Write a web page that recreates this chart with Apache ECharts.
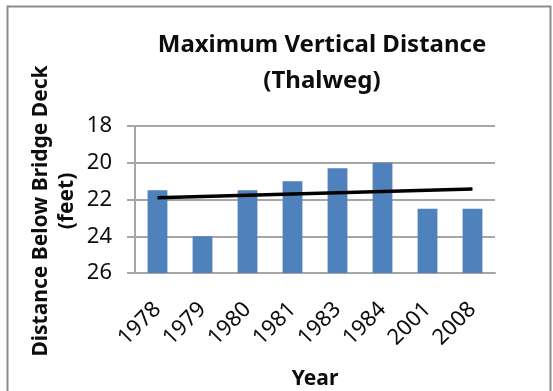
<!DOCTYPE html>
<html>
<head>
<meta charset="utf-8">
<script src="https://cdn.jsdelivr.net/npm/echarts@6/dist/echarts.min.js"></script>
<style>html,body{margin:0;padding:0;background:#fff;}#c{width:553px;height:391px;}</style>
</head>
<body>
<div id="c"></div>
<script>
const years = ['1978','1979','1980','1981','1983','1984','2001','2008'];
const distance = [21.5, 24.0, 21.5, 21.0, 20.3, 20.0, 22.5, 22.5];
const trend = [21.9, null, null, null, null, null, null, 21.43];
const yTicks = [18, 20, 22, 24, 26];

const axisMin = yTicks[0], axisMax = yTicks[yTicks.length - 1];
const barHeights = distance.map(v => axisMax - v);
const font = '"Noto Sans", sans-serif';

const chart = echarts.init(document.getElementById('c'), null, {renderer: 'canvas'});
chart.setOption({
  animation: false,
  backgroundColor: '#fff',
  grid: {left: 135, right: 58, top: 126, bottom: 118, containLabel: false},
  xAxis: {
    type: 'category',
    data: years,
    axisLine: {show: true, lineStyle: {color: '#a6a6a6', width: 2}},
    axisTick: {show: false},
    axisLabel: {rotate: 45, margin: 33, fontSize: 22, color: '#0d0d0d', fontFamily: font},
    splitLine: {show: false}
  },
  yAxis: {
    type: 'value',
    inverse: true,
    min: axisMin, max: axisMax, interval: 2,
    axisLine: {show: true, lineStyle: {color: '#a6a6a6', width: 2}},
    axisTick: {show: true, length: 8, lineStyle: {color: '#a6a6a6', width: 2}},
    axisLabel: {fontSize: 22, color: '#0d0d0d', fontFamily: font, margin: 23},
    splitLine: {show: true, lineStyle: {color: '#a6a6a6', width: 2}}
  },
  series: [
    {type: 'bar', stack: 'd', data: distance, barWidth: '44%', itemStyle: {color: 'rgba(0,0,0,0)'}, silent: true},
    {type: 'bar', stack: 'd', data: barHeights, barWidth: '44%', itemStyle: {color: '#4f81bd'}},
    {type: 'line', data: trend, connectNulls: true, symbol: 'none', lineStyle: {color: '#000', width: 3.5}, z: 5}
  ],
  graphic: [
    {type: 'rect', left: 5, top: 4, shape: {width: 543, height: 400}, style: {fill: 'none', stroke: '#8c8c8c', lineWidth: 2}},
    {type: 'text', x: 322, y: 45, style: {text: 'Maximum Vertical Distance', font: 'bold 24px "Noto Sans"', fill: '#0d0d0d', align: 'center', verticalAlign: 'middle'}},
    {type: 'text', x: 322, y: 81, style: {text: '(Thalweg)', font: 'bold 24px "Noto Sans"', fill: '#0d0d0d', align: 'center', verticalAlign: 'middle'}},
    {type: 'text', x: 41, y: 211, rotation: Math.PI / 2, style: {text: 'Distance Below Bridge Deck', font: 'bold 21px "Noto Sans"', fill: '#0d0d0d', align: 'center', verticalAlign: 'middle'}},
    {type: 'text', x: 67, y: 201, rotation: Math.PI / 2, style: {text: '(feet)', font: 'bold 21px "Noto Sans"', fill: '#0d0d0d', align: 'center', verticalAlign: 'middle'}},
    {type: 'text', x: 315, y: 379, style: {text: 'Year', font: 'bold 21px "Noto Sans"', fill: '#0d0d0d', align: 'center', verticalAlign: 'middle'}}
  ]
});
</script>
</body>
</html>
